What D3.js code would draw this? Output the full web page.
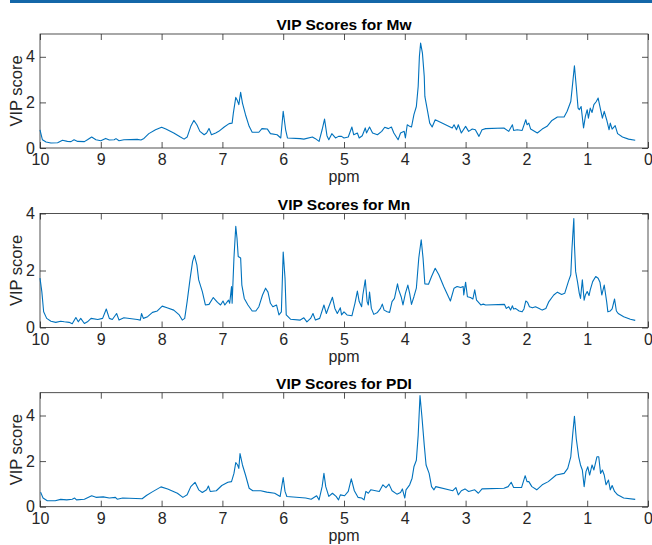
<!DOCTYPE html>
<html>
<head>
<meta charset="utf-8">
<script src="https://cdn.jsdelivr.net/npm/d3@7"></script>
<style>
  body { margin: 0; background: #fff; }
  svg { display: block; font-family: "Liberation Sans", Arial, Helvetica, sans-serif; }
</style>
</head>
<body>
<div id="chart"></div>
<script>
// panel titles and axis settings
const titles = ["VIP Scores for Mw", "VIP Scores for Mn", "VIP Scores for PDI"];
const yMax = [5, 4, 5];
const xTickValues = [10, 9, 8, 7, 6, 5, 4, 3, 2, 1, 0];
const yTickValues = [0, 2, 4];

// VIP scores: [ppm, score]
const mwPoints = [
  [10.0, 0.80], [9.96, 0.36], [9.90, 0.26], [9.82, 0.22], [9.71, 0.23], [9.63, 0.34], [9.55, 0.29],
  [9.49, 0.28], [9.44, 0.36], [9.38, 0.29], [9.27, 0.28], [9.22, 0.36], [9.15, 0.48], [9.08, 0.36],
  [9.00, 0.32], [8.92, 0.42], [8.86, 0.35], [8.78, 0.36], [8.75, 0.41], [8.70, 0.32], [8.62, 0.36],
  [8.40, 0.38], [8.34, 0.35], [8.29, 0.42], [8.21, 0.63], [8.10, 0.80], [8.00, 0.91], [7.93, 0.83],
  [7.80, 0.66], [7.69, 0.48], [7.63, 0.39], [7.58, 0.48], [7.52, 0.95], [7.47, 1.21], [7.42, 1.02],
  [7.37, 0.73], [7.30, 0.58], [7.26, 0.66], [7.22, 0.86], [7.18, 0.58], [7.11, 0.66], [7.06, 0.73],
  [6.97, 0.92], [6.89, 1.07], [6.84, 1.09], [6.82, 1.53], [6.78, 2.22], [6.76, 2.12], [6.73, 1.90],
  [6.70, 2.44], [6.67, 1.97], [6.62, 1.46], [6.56, 0.95], [6.51, 0.69], [6.40, 0.69], [6.35, 0.85],
  [6.26, 0.83], [6.21, 0.63], [6.10, 0.58], [6.04, 0.44], [6.00, 1.61], [5.96, 0.80], [5.93, 0.44],
  [5.72, 0.41], [5.66, 0.39], [5.52, 0.48], [5.47, 0.41], [5.41, 0.29], [5.36, 0.80], [5.32, 1.27],
  [5.28, 0.54], [5.25, 0.36], [5.20, 0.63], [5.14, 0.44], [5.09, 0.51], [5.04, 0.51], [5.00, 0.44],
  [4.93, 0.48], [4.87, 0.92], [4.84, 0.58], [4.78, 0.66], [4.75, 0.44], [4.70, 0.54], [4.65, 0.88],
  [4.63, 0.66], [4.58, 0.92], [4.53, 0.66], [4.45, 0.58], [4.38, 0.73], [4.33, 0.91], [4.27, 0.85],
  [4.22, 0.92], [4.18, 0.66], [4.11, 0.36], [4.07, 0.66], [4.01, 0.73], [3.99, 0.44], [3.96, 1.02],
  [3.92, 0.95], [3.89, 0.92], [3.85, 1.46], [3.81, 1.82], [3.78, 2.70], [3.76, 4.01], [3.74, 4.60],
  [3.71, 4.16], [3.68, 3.14], [3.67, 2.26], [3.63, 1.68], [3.59, 1.09], [3.55, 0.92], [3.50, 1.24],
  [3.38, 1.09], [3.22, 0.88], [3.19, 1.02], [3.15, 0.80], [3.12, 1.02], [3.07, 0.66], [3.00, 0.95],
  [2.95, 0.73], [2.89, 0.83], [2.84, 0.80], [2.78, 0.51], [2.73, 0.80], [2.67, 0.85], [2.37, 0.88],
  [2.29, 0.73], [2.23, 1.02], [2.21, 0.77], [2.15, 0.80], [2.07, 0.77], [2.01, 1.24], [1.99, 1.02],
  [1.96, 1.09], [1.93, 0.83], [1.82, 0.66], [1.74, 0.83], [1.66, 0.95], [1.58, 1.21], [1.49, 1.36],
  [1.38, 1.36], [1.33, 1.61], [1.27, 2.04], [1.25, 2.55], [1.21, 3.61], [1.18, 2.70], [1.15, 1.75],
  [1.13, 1.68], [1.10, 1.82], [1.06, 0.88], [1.03, 1.39], [1.00, 1.68], [0.98, 1.31], [0.95, 1.75],
  [0.92, 1.56], [0.89, 1.90], [0.85, 2.04], [0.82, 2.19], [0.78, 1.68], [0.75, 1.31], [0.72, 1.61],
  [0.68, 1.24], [0.64, 0.80], [0.62, 1.09], [0.59, 0.83], [0.54, 0.98], [0.50, 0.63], [0.42, 0.48],
  [0.32, 0.39], [0.21, 0.34]
];

const mnPoints = [
  [10.0, 1.73], [9.97, 1.26], [9.94, 0.55], [9.89, 0.32], [9.82, 0.22], [9.74, 0.18], [9.66, 0.22],
  [9.60, 0.20], [9.52, 0.18], [9.47, 0.13], [9.41, 0.35], [9.37, 0.20], [9.33, 0.32], [9.27, 0.14],
  [9.22, 0.20], [9.16, 0.32], [9.05, 0.28], [8.97, 0.32], [8.91, 0.65], [8.86, 0.32], [8.81, 0.28],
  [8.74, 0.49], [8.70, 0.26], [8.62, 0.34], [8.40, 0.28], [8.35, 0.26], [8.33, 0.49], [8.30, 0.32],
  [8.23, 0.38], [8.15, 0.53], [8.07, 0.58], [7.99, 0.75], [7.91, 0.69], [7.80, 0.61], [7.71, 0.44],
  [7.66, 0.26], [7.62, 0.32], [7.58, 0.91], [7.53, 1.73], [7.49, 2.32], [7.46, 2.53], [7.42, 2.20],
  [7.39, 1.67], [7.33, 1.26], [7.28, 0.79], [7.22, 0.81], [7.15, 1.05], [7.08, 0.88], [7.03, 0.79],
  [6.99, 0.93], [6.96, 0.79], [6.90, 0.96], [6.88, 0.85], [6.85, 1.44], [6.84, 0.85], [6.81, 2.44],
  [6.78, 3.55], [6.76, 3.14], [6.74, 2.49], [6.70, 2.44], [6.68, 1.49], [6.64, 1.02], [6.58, 0.79],
  [6.51, 0.58], [6.45, 0.58], [6.40, 0.73], [6.34, 1.14], [6.29, 1.38], [6.25, 1.24], [6.21, 0.85],
  [6.17, 0.73], [6.11, 0.79], [6.07, 0.44], [6.03, 0.55], [6.00, 2.65], [5.97, 1.73], [5.95, 0.44],
  [5.88, 0.29], [5.72, 0.26], [5.66, 0.34], [5.61, 0.20], [5.55, 0.32], [5.51, 0.49], [5.47, 0.26],
  [5.40, 0.32], [5.33, 0.79], [5.29, 0.49], [5.25, 0.73], [5.19, 1.06], [5.15, 0.67], [5.11, 0.49],
  [5.06, 0.69], [5.04, 0.44], [5.00, 0.55], [4.95, 0.44], [4.87, 0.41], [4.82, 0.85], [4.78, 1.28],
  [4.75, 0.91], [4.71, 0.73], [4.69, 1.14], [4.65, 1.67], [4.62, 0.91], [4.60, 0.79], [4.58, 1.24],
  [4.55, 0.67], [4.51, 0.46], [4.45, 0.53], [4.40, 0.67], [4.37, 0.82], [4.34, 0.61], [4.29, 0.55],
  [4.25, 0.53], [4.21, 0.91], [4.17, 1.02], [4.12, 1.53], [4.10, 1.32], [4.06, 1.08], [4.03, 0.79],
  [3.99, 1.20], [3.95, 1.49], [3.92, 1.20], [3.89, 0.81], [3.85, 1.08], [3.81, 1.38], [3.77, 2.44],
  [3.73, 3.08], [3.70, 2.44], [3.67, 1.53], [3.61, 1.52], [3.56, 1.79], [3.50, 2.08], [3.44, 1.85],
  [3.36, 1.44], [3.25, 0.93], [3.19, 1.38], [3.14, 1.44], [3.08, 1.40], [3.04, 1.44], [3.03, 1.14],
  [3.00, 1.59], [2.97, 1.08], [2.92, 1.05], [2.88, 1.00], [2.85, 1.32], [2.82, 0.96], [2.75, 0.79],
  [2.71, 0.82], [2.67, 0.79], [2.36, 0.81], [2.33, 0.67], [2.29, 0.73], [2.26, 0.61], [2.23, 0.76],
  [2.21, 0.65], [2.18, 0.67], [2.12, 0.58], [2.07, 0.55], [2.04, 0.65], [2.01, 0.93], [1.98, 0.88],
  [1.95, 0.73], [1.90, 0.69], [1.85, 0.73], [1.79, 0.67], [1.74, 0.61], [1.68, 0.67], [1.63, 0.91],
  [1.55, 1.14], [1.49, 1.24], [1.42, 1.16], [1.37, 1.20], [1.31, 1.61], [1.27, 1.85], [1.25, 2.79],
  [1.22, 3.82], [1.21, 2.91], [1.19, 1.96], [1.16, 1.61], [1.13, 1.20], [1.11, 1.02], [1.08, 1.67],
  [1.05, 0.96], [1.03, 1.14], [1.00, 1.26], [0.97, 1.12], [0.95, 1.32], [0.91, 1.61], [0.86, 1.79],
  [0.82, 1.73], [0.79, 1.59], [0.76, 1.14], [0.72, 1.49], [0.68, 0.91], [0.66, 0.55], [0.62, 0.58],
  [0.59, 0.65], [0.55, 1.00], [0.52, 0.58], [0.49, 0.49], [0.40, 0.38], [0.29, 0.29], [0.21, 0.25]
];

const pdiPoints = [
  [9.99, 0.64], [9.95, 0.38], [9.88, 0.26], [9.75, 0.26], [9.66, 0.32], [9.56, 0.30], [9.47, 0.33],
  [9.43, 0.38], [9.40, 0.30], [9.27, 0.33], [9.15, 0.48], [9.08, 0.41], [8.96, 0.43], [8.86, 0.38],
  [8.76, 0.41], [8.73, 0.33], [8.64, 0.38], [8.32, 0.35], [8.25, 0.49], [8.16, 0.64], [8.01, 0.87],
  [7.90, 0.78], [7.74, 0.59], [7.65, 0.41], [7.58, 0.52], [7.52, 0.88], [7.45, 1.07], [7.39, 0.74],
  [7.33, 0.62], [7.26, 0.74], [7.23, 0.91], [7.20, 0.67], [7.10, 0.70], [7.01, 0.93], [6.91, 1.07],
  [6.85, 1.10], [6.81, 1.46], [6.78, 1.94], [6.75, 1.83], [6.73, 1.68], [6.71, 2.33], [6.67, 1.83],
  [6.62, 1.39], [6.56, 0.81], [6.50, 0.70], [6.37, 0.70], [6.27, 0.64], [6.14, 0.59], [6.05, 0.45],
  [6.00, 1.28], [5.97, 0.67], [5.94, 0.45], [5.63, 0.38], [5.54, 0.33], [5.45, 0.48], [5.41, 0.30],
  [5.36, 0.88], [5.33, 1.46], [5.30, 0.88], [5.25, 0.45], [5.19, 0.59], [5.13, 0.45], [5.09, 0.30],
  [5.06, 0.52], [4.99, 0.48], [4.93, 0.67], [4.88, 1.22], [4.83, 0.70], [4.77, 0.41], [4.71, 0.38],
  [4.67, 0.30], [4.64, 0.67], [4.60, 0.59], [4.56, 0.74], [4.42, 0.67], [4.36, 0.96], [4.31, 0.84],
  [4.26, 0.99], [4.21, 0.70], [4.13, 0.55], [4.07, 0.62], [4.04, 0.78], [4.00, 0.38], [3.98, 0.74],
  [3.92, 0.96], [3.88, 1.25], [3.85, 1.75], [3.81, 2.04], [3.78, 3.13], [3.75, 4.87], [3.72, 4.00],
  [3.68, 2.70], [3.65, 1.83], [3.60, 1.46], [3.56, 0.88], [3.52, 0.74], [3.49, 0.88], [3.21, 0.70],
  [3.16, 0.84], [3.12, 0.52], [3.07, 0.70], [3.01, 0.78], [2.95, 0.67], [2.85, 0.74], [2.79, 0.59],
  [2.73, 0.78], [2.37, 0.81], [2.30, 0.88], [2.25, 1.07], [2.21, 0.84], [2.08, 0.84], [2.02, 1.36],
  [1.99, 1.10], [1.96, 1.10], [1.91, 0.88], [1.83, 0.74], [1.74, 0.96], [1.64, 1.10], [1.51, 1.39],
  [1.38, 1.46], [1.32, 1.68], [1.27, 2.19], [1.24, 3.13], [1.21, 3.97], [1.18, 2.99], [1.14, 2.19],
  [1.11, 1.83], [1.08, 1.61], [1.05, 0.88], [1.02, 1.54], [0.99, 1.75], [0.96, 1.39], [0.92, 1.83],
  [0.89, 1.61], [0.84, 2.19], [0.81, 2.19], [0.78, 1.46], [0.75, 1.61], [0.72, 1.39], [0.69, 0.96],
  [0.65, 1.17], [0.62, 0.74], [0.59, 0.93], [0.55, 0.67], [0.50, 0.52], [0.40, 0.38], [0.21, 0.32]
];

const series = [mwPoints, mnPoints, pdiPoints];

const width = 652, height = 545;
const left = 40, right = 648;
const panelTops = [34, 213.5, 392.7];
const panelHeight = 114;
const axisColor = "#262626";

const svg = d3.select("#chart")
  .append("svg")
  .attr("width", width)
  .attr("height", height);

// thin blue rule across the top
svg.append("rect")
  .attr("x", 10).attr("y", 0)
  .attr("width", width - 10).attr("height", 3)
  .attr("fill", "#1467a8");

const x = d3.scaleLinear().domain([10, 0]).range([left, right]);

series.forEach((points, i) => {
  const top = panelTops[i];
  const bottom = top + panelHeight;
  const y = d3.scaleLinear().domain([0, yMax[i]]).range([bottom, top]);

  const g = svg.append("g");

  // bottom axis with labels, ticks pointing in
  const xAxis = g.append("g")
    .attr("transform", "translate(0," + bottom + ")")
    .call(d3.axisBottom(x).tickValues(xTickValues).tickSize(-6).tickPadding(6).tickFormat(d3.format("d")));

  const yAxis = g.append("g")
    .attr("transform", "translate(" + left + ",0)")
    .call(d3.axisLeft(y).tickValues(yTickValues).tickSize(-6).tickPadding(5).tickFormat(d3.format("d")));

  // mirrored ticks on top and right
  const xTop = g.append("g")
    .attr("transform", "translate(0," + top + ")")
    .call(d3.axisTop(x).tickValues(xTickValues).tickSize(-6).tickFormat(""));

  const yRight = g.append("g")
    .attr("transform", "translate(" + right + ",0)")
    .call(d3.axisRight(y).tickValues(yTickValues).tickSize(-6).tickFormat(""));

  [xAxis, yAxis, xTop, yRight].forEach(a => {
    a.select(".domain").remove();
    a.selectAll(".tick line").attr("stroke", axisColor).attr("stroke-width", 0.8);
    a.selectAll(".tick text").attr("fill", axisColor).style("font-size", "16px")
      .style("font-family", "'Liberation Sans', Arial, sans-serif");
  });

  // box
  g.append("rect")
    .attr("x", left).attr("y", top)
    .attr("width", right - left).attr("height", panelHeight)
    .attr("fill", "none")
    .attr("stroke", axisColor)
    .attr("stroke-width", 0.8);

  // the trace
  const line = d3.line()
    .x(d => x(d[0]))
    .y(d => y(d[1]));

  g.append("path")
    .datum(points)
    .attr("fill", "none")
    .attr("stroke", "#0072BD")
    .attr("stroke-width", 1.1)
    .attr("stroke-linejoin", "round")
    .attr("d", line);

  // title
  g.append("text")
    .attr("x", (left + right) / 2)
    .attr("y", top - 4)
    .attr("text-anchor", "middle")
    .attr("font-weight", "bold")
    .attr("font-size", "15.5px")
    .attr("fill", "#000")
    .text(titles[i]);

  // axis labels
  g.append("text")
    .attr("x", (left + right) / 2)
    .attr("y", bottom + 34)
    .attr("text-anchor", "middle")
    .attr("font-size", "16px")
    .attr("fill", axisColor)
    .text("ppm");

  g.append("text")
    .attr("text-anchor", "middle")
    .attr("transform", "translate(22," + (top + panelHeight / 2) + ")rotate(-90)")
    .attr("font-size", "16.5px")
    .attr("fill", axisColor)
    .text("VIP score");
});
</script>
</body>
</html>
